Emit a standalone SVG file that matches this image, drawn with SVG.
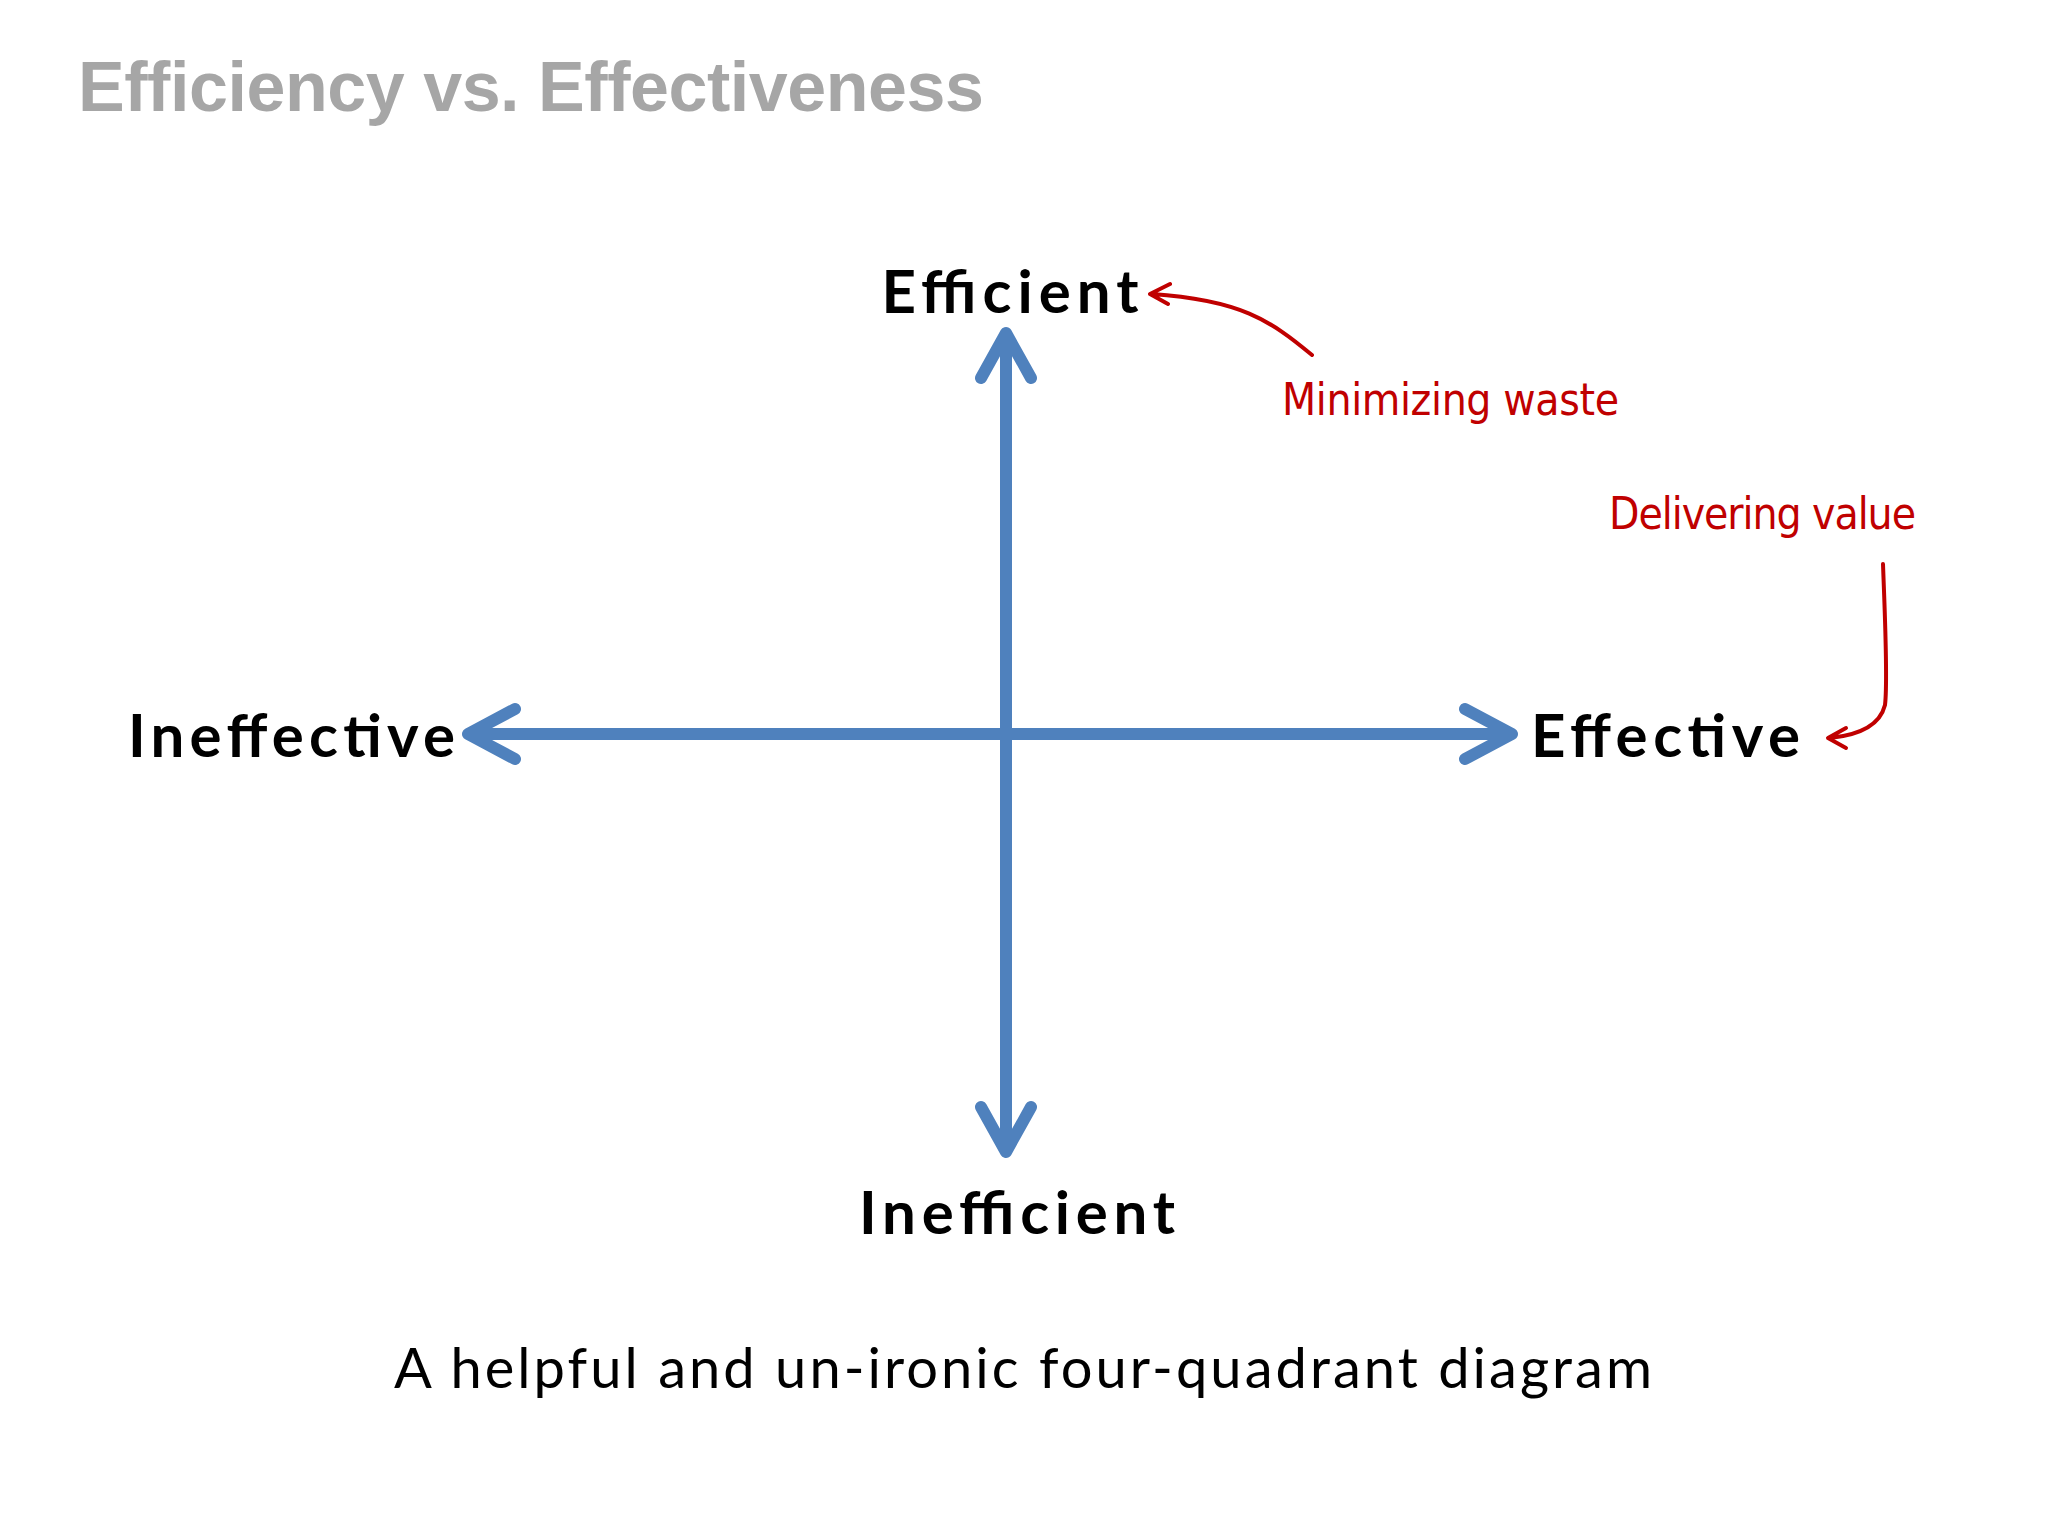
<svg xmlns="http://www.w3.org/2000/svg" width="2048" height="1536" viewBox="0 0 2048 1536">
<style>
.lbl{font-family:Lato,"Liberation Sans",sans-serif;font-weight:bold;font-size:60px;fill:#000}
.note{font-family:"DejaVu Sans Condensed","Liberation Sans",sans-serif;font-size:44px;fill:#c00000}
.ax{stroke:#4f81bd;stroke-width:12;fill:none;stroke-linecap:round;stroke-linejoin:round}
.red{stroke:#c00000;stroke-width:4;fill:none;stroke-linecap:round;stroke-linejoin:round}
</style>
<rect width="2048" height="1536" fill="#fff"/>
<text x="78" y="111" font-family="Liberation Sans,sans-serif" font-weight="bold" font-size="70" fill="#a6a6a6" textLength="906">Efficiency vs. Effectiveness</text>
<g id="connectors">
<path class="ax" d="M1006 340 V1148 M981 378 L1006 333 L1031 378 M981 1107 L1006 1152 L1031 1107"/>
<path class="ax" d="M472 734 H1508 M515 709 L468 734 L515 759 M1465 709 L1512 734 L1465 759"/>
<path class="red" d="M1312 355 C1270 320 1240 300 1152 294 M1170 284 L1150 294 L1168 304"/>
<path class="red" d="M1883 564 C1885 620 1888 680 1885 705 C1880 725 1860 735 1830 738 M1846 728 L1828 738 L1846 748"/>
</g>
<g id="efficient"><text class="lbl" x="1010" y="313" text-anchor="middle" textLength="257">Efficient</text></g>
<g id="ineffective"><text class="lbl" x="128" y="757" textLength="327">Ineffective</text></g>
<g id="effective"><text class="lbl" x="1531" y="757" textLength="269">Effective</text></g>
<g id="inefficient"><text class="lbl" x="859" y="1234" textLength="316">Inefficient</text></g>
<g id="minimizing"><text class="note" x="1282" y="415" textLength="337">Minimizing waste</text></g>
<g id="delivering"><text class="note" x="1609" y="529" textLength="307">Delivering value</text></g>
<text x="394" y="1388" font-family="Lato,'Liberation Sans',sans-serif" font-size="56" fill="#000" textLength="1258">A helpful and un-ironic four-quadrant diagram</text>
</svg>
